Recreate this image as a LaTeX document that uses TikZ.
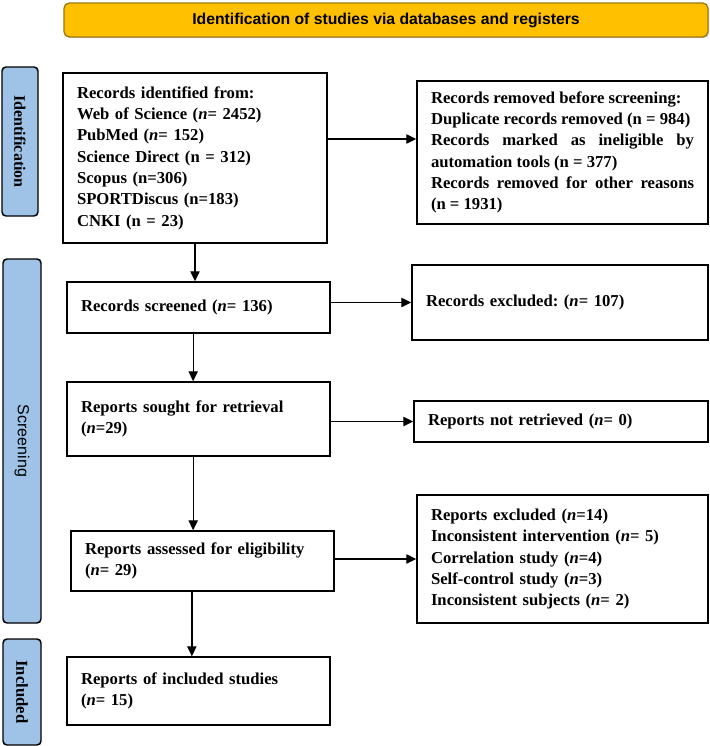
\documentclass[tikz,border=0pt]{standalone}
\usepackage{fontspec}
\setmainfont{Liberation Serif}
\setsansfont{Liberation Sans}
\usetikzlibrary{arrows.meta,shadows}
\definecolor{bannerfill}{HTML}{FFC000}
\definecolor{bannerdraw}{HTML}{9A7A10}
\definecolor{labelfill}{HTML}{9FC2E7}
\frenchspacing
\begin{document}
\begin{tikzpicture}[x=0.75pt,y=-0.75pt,
  box/.style={draw=black,line width=1.1pt,align=left,inner xsep=10.5pt,inner ysep=0pt,
    font=\bfseries\fontsize{12.5}{16}\selectfont,anchor=center},
  lab/.style={draw=black,line width=1.1pt,fill=labelfill,rounded corners=3pt,inner sep=0pt,
    rotate=-90,anchor=center},
  banner/.style={draw=bannerdraw,line width=1pt,fill=bannerfill,rounded corners=4pt,
    drop shadow={shadow xshift=0.8pt,shadow yshift=-0.8pt,opacity=0.35},
    font=\sffamily\bfseries\fontsize{11.8}{14}\selectfont},
  arr/.style={line width=1pt,-{Triangle[length=7.5pt,width=7pt]}}]
\useasboundingbox (0,0) rectangle (710,746);

\node[banner,minimum width=483pt,minimum height=25.5pt] (ban) at (386,20)
  {Identification of studies via databases and registers};

\node[lab,minimum width=111.75pt,minimum height=27pt,font=\bfseries\fontsize{12}{14}\selectfont] (lid) at (20,141.5) {Identification};
\node[lab,minimum width=273pt,minimum height=28.5pt,font=\sffamily\fontsize{12}{14}\selectfont] (lsc) at (22,441) {Screening};
\node[lab,minimum width=79.5pt,minimum height=28.5pt,font=\bfseries\fontsize{12.5}{14}\selectfont] (lin) at (22,692) {Included};

\node[box,minimum width=198pt,minimum height=127.5pt,text width=177pt] (rec) at (195,158)
  {Records identified from:\\
   Web of Science (\textit{n}= 2452)\\
   PubMed (\textit{n}= 152)\\
   Science Direct (n = 312)\\
   Scopus (n=306)\\
   SPORTDiscus (n=183)\\
   CNKI (n = 23)};

\node[box,align=justify,minimum width=218.25pt,minimum height=107.25pt,text width=197.25pt] (removed) at (562.5,152.5)
  {Records removed before screening:\\
   Duplicate records removed (n = 984)\\
   Records marked as ineligible by\linebreak automation tools (n = 377)\\
   Records removed for other reasons\linebreak (n = 1931)};

\node[box,minimum width=197.25pt,minimum height=38.25pt,text width=176.25pt] (screened) at (198.5,307.5)
  {Records screened (\textit{n}= 136)};

\node[box,minimum width=222pt,minimum height=56.25pt,text width=201pt] (excluded) at (560,302.5)
  {Records excluded: (\textit{n}= 107)};

\node[box,minimum width=197.25pt,minimum height=55.5pt,text width=176.25pt] (sought) at (198.5,419)
  {Reports sought for retrieval\\ (\textit{n}=29)};

\node[box,minimum width=220.5pt,minimum height=30.75pt,text width=199.5pt] (notret) at (561,421.5)
  {Reports not retrieved (\textit{n}= 0)};

\node[box,minimum width=197.25pt,minimum height=45pt,text width=176.25pt] (elig) at (202.5,561)
  {Reports assessed for eligibility\\ (\textit{n}= 29)};

\node[box,minimum width=218.25pt,minimum height=96pt,text width=197.25pt] (repexcl) at (562.5,559)
  {Reports excluded (\textit{n}=14)\\
   Inconsistent intervention (\textit{n}= 5)\\
   Correlation study (\textit{n}=4)\\
   Self-control study (\textit{n}=3)\\
   Inconsistent subjects (\textit{n}= 2)};

\node[box,minimum width=197.25pt,minimum height=51pt,text width=176.25pt] (incl) at (198.5,691)
  {Reports of included studies\\ (\textit{n}= 15)};

\draw[arr] ([yshift=14.25pt]rec.east) -- ([yshift=14.25pt]rec.east -| removed.west);
\draw[arr] (rec.south) -- (rec.south |- screened.north);
\draw[arr] (excluded.west -| screened.east) -- (excluded.west);
\draw[arr] ([xshift=-4pt]screened.south) -- ([xshift=-4pt]screened.south |- sought.north);
\draw[arr] (notret.west -| sought.east) -- (notret.west);
\draw[arr] ([xshift=-4pt]sought.south) -- ([xshift=-4pt]sought.south |- elig.north);
\draw[arr] (repexcl.west -| elig.east) -- (repexcl.west);
\draw[arr] ([xshift=-8pt]elig.south) -- ([xshift=-8pt]elig.south |- incl.north);
\end{tikzpicture}
\end{document}
